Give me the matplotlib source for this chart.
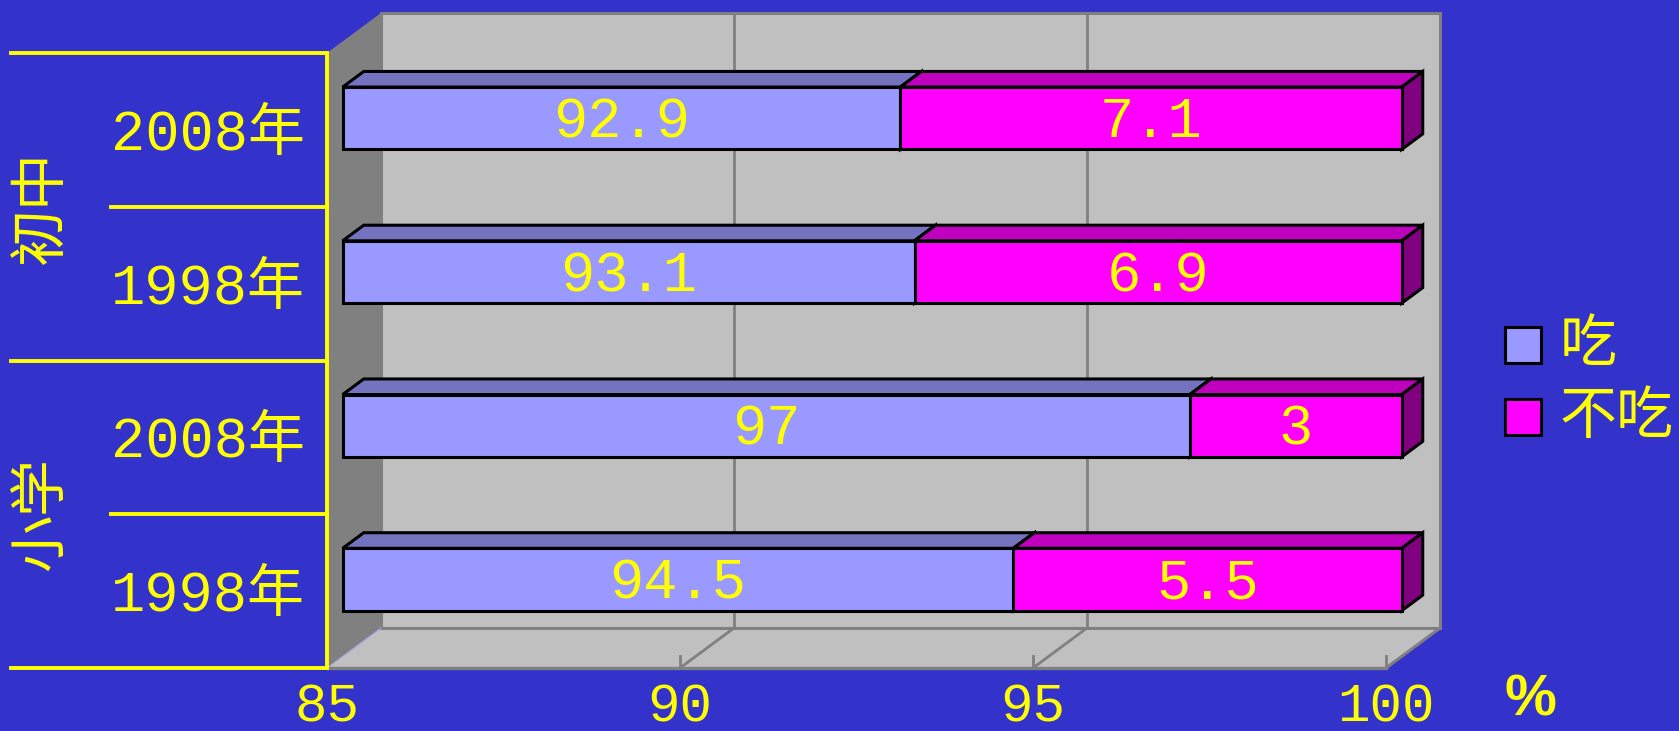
import matplotlib
matplotlib.use("Agg")
import matplotlib.pyplot as plt
from matplotlib.patches import Polygon, Rectangle
from matplotlib.lines import Line2D
from matplotlib.transforms import offset_copy, blended_transform_factory

# ---- data -------------------------------------------------------------
groups = ["小学", "初中"]                       # bottom to top
years = ["1998年", "2008年", "1998年", "2008年"]  # bottom to top
eat = [94.5, 97, 93.1, 92.9]                    # 吃 (%)
not_eat = [5.5, 3, 6.9, 7.1]                    # 不吃 (%)
series_names = ["吃", "不吃"]
x_ticks = [85, 90, 95, 100]
x_min, x_max = 85, 100

# ---- style ------------------------------------------------------------
W, H, DPI = 1679, 731, 100
BG = "#3333CC"
YEL = "#FFFF00"
FRONT = ["#9999FF", "#FF00FF"]
TOP = ["#7373BF", "#BF00BF"]
SIDE = ["#6666AA", "#800080"]
WALL_BACK = "#C0C0C0"
WALL_SIDE = "#808080"
GRID = "#808080"
FAM = ["Liberation Mono", "Noto Sans CJK SC"]
CJK = ["Noto Sans CJK SC"]
FS = 41

plt.rcParams["font.family"] = FAM

fig = plt.figure(figsize=(W / DPI, H / DPI), dpi=DPI, facecolor=BG)

# front plane of the plot box (pixels from top-left)
L, R, T, B = 327, 1386, 53, 668
ax = fig.add_axes([L / W, (H - B) / H, (R - L) / W, (B - T) / H])
ax.set_xlim(x_min, x_max)
ax.set_ylim(-0.5, len(years) - 0.5)
ax.axis("off")

# pixels per data unit, for the oblique depth offset
p0 = ax.transData.transform((x_min, 0))
ux = ax.transData.transform((x_min + 1, 0))[0] - p0[0]
uy = ax.transData.transform((x_min, 1))[1] - p0[1]
DEPTH = (54.0, 40.0)  # full depth of the box in pixels (right, up)


def P(v, c, d):
    return (v + d * DEPTH[0] / ux, c + d * DEPTH[1] / uy)


y_lo, y_hi = -0.5, len(years) - 0.5

# back wall
back = Polygon([P(x_min, y_lo, 1), P(x_max, y_lo, 1), P(x_max, y_hi, 1), P(x_min, y_hi, 1)],
               closed=True, facecolor=WALL_BACK, edgecolor=GRID, lw=2.2,
               clip_on=False, zorder=0)
ax.add_patch(back)

# gridlines on the back wall
for v in x_ticks[1:-1]:
    a, b = P(v, y_lo, 1), P(v, y_hi, 1)
    ax.add_line(Line2D([a[0], b[0]], [a[1], b[1]], color=GRID, lw=2.0,
                       clip_on=False, zorder=1))

# left wall
left = Polygon([P(x_min, y_lo, 0), P(x_min, y_hi, 0), P(x_min, y_hi, 1), P(x_min, y_lo, 1)],
               closed=True, facecolor=WALL_SIDE, edgecolor="none",
               clip_on=False, zorder=1)
ax.add_patch(left)

# floor
floor = Polygon([P(x_min, y_lo, 0), P(x_max, y_lo, 0), P(x_max, y_lo, 1), P(x_min, y_lo, 1)],
                closed=True, facecolor=WALL_BACK, edgecolor="none",
                clip_on=False, zorder=1)
ax.add_patch(floor)


def seg(p, q, **kw):
    ax.add_line(Line2D([p[0], q[0]], [p[1], q[1]], clip_on=False, **kw))


seg(P(x_min, y_lo, 0), P(x_max, y_lo, 0), color=GRID, lw=2.4, zorder=2)
seg(P(x_min, y_lo, 1), P(x_max, y_lo, 1), color=GRID, lw=2.2, zorder=2)
seg(P(x_max, y_lo, 0), P(x_max, y_lo, 1), color=GRID, lw=2.2, zorder=2)
seg(P(x_min, y_lo, 0), P(x_min, y_lo, 1), color="#A8A8E0", lw=0.8, zorder=2)
for v in x_ticks[1:]:
    if v < x_max:
        seg(P(v, y_lo, 0), P(v, y_lo, 1), color=GRID, lw=2.0, zorder=2)
    seg(P(v, y_lo, 0), (v, y_lo + 12 / uy), color=GRID, lw=2.0, zorder=2)

# ---- 3D stacked bars ----------------------------------------------------
D_FRONT, D_BACK = 0.29, 0.68
HALF = 0.203

# text baseline sits this many pixels below the label's anchor point
label_tr = offset_copy(ax.transData, fig=fig, x=0, y=-19, units="dots")


def box(x0, x1, c, k):
    front = [P(x0, c - HALF, D_FRONT), P(x1, c - HALF, D_FRONT),
             P(x1, c + HALF, D_FRONT), P(x0, c + HALF, D_FRONT)]
    top = [P(x0, c + HALF, D_FRONT), P(x1, c + HALF, D_FRONT),
           P(x1, c + HALF, D_BACK), P(x0, c + HALF, D_BACK)]
    side = [P(x1, c - HALF, D_FRONT), P(x1, c - HALF, D_BACK),
            P(x1, c + HALF, D_BACK), P(x1, c + HALF, D_FRONT)]
    for pts, col in ((top, TOP[k]), (side, SIDE[k]), (front, FRONT[k])):
        ax.add_patch(Polygon(pts, closed=True, facecolor=col, edgecolor="black",
                             lw=2.2, joinstyle="miter", clip_on=False, zorder=3))


for i, (e, n) in enumerate(zip(eat, not_eat)):
    starts = [x_min, e]
    ends = [e, e + n]
    vals = [e, n]
    for k in range(2):
        box(starts[k], ends[k], i, k)
    for k in range(2):
        tx, ty = P((starts[k] + ends[k]) / 2, i, D_FRONT)
        ax.text(tx, ty, f"{vals[k]:g}", transform=label_tr, color=YEL,
                fontsize=FS, family=FAM, ha="center", va="baseline",
                zorder=5, clip_on=False)

# ---- category axis ------------------------------------------------------
yt = blended_transform_factory(ax.transAxes, ax.transData)
yt_base = offset_copy(yt, fig=fig, x=0, y=-20, units="dots")
px = lambda p: (p - L) / (R - L)  # pixel x -> axes fraction

for i, lab in enumerate(years):
    ax.text(px(305), i, lab, transform=yt_base, color=YEL, fontsize=FS,
            family=FAM, ha="right", va="baseline", clip_on=False)

for g, lab in enumerate(groups):
    ax.text(px(42), 2 * g + 0.5, lab, transform=yt, color=YEL, fontsize=FS,
            family=CJK, rotation=90, ha="center", va="center", clip_on=False)

# divider lines of the category axis
for yv, xs in ((-0.5, 11), (0.5, 111), (1.5, 11), (2.5, 111), (3.5, 11)):
    ax.add_line(Line2D([px(xs), 0], [yv, yv], transform=yt, color=YEL, lw=2.8,
                       clip_on=False, zorder=4, solid_capstyle="projecting"))
ax.add_line(Line2D([0, 0], [y_lo, y_hi], transform=yt, color=YEL, lw=2.8,
                   clip_on=False, zorder=4, solid_capstyle="projecting"))

# ---- value axis labels ---------------------------------------------------
tick_tr = offset_copy(ax.transData, fig=fig, x=0, y=-53, units="dots")
for v in x_ticks:
    ax.text(v, y_lo, f"{v}", transform=tick_tr, color=YEL, fontsize=39,
            family=FAM, ha="center", va="baseline", clip_on=False)

fig.text(1530 / W, 1 - 701 / H, "%", color=YEL, fontsize=42,
         family=["Liberation Sans"], fontweight="bold", ha="center", va="center")

# ---- legend ------------------------------------------------------------
for k, (name, yc) in enumerate(zip(series_names, (345, 417))):
    fig.patches.append(Rectangle(((1505) / W, 1 - (yc + 18) / H), 36 / W, 36 / H,
                                 transform=fig.transFigure, facecolor=FRONT[k],
                                 edgecolor="black", lw=2.2, zorder=3))
    fig.text(1560 / W, 1 - yc / H, name, color=YEL, fontsize=FS, family=CJK,
             ha="left", va="center")

fig.savefig("out.png", dpi=DPI, facecolor=BG)
